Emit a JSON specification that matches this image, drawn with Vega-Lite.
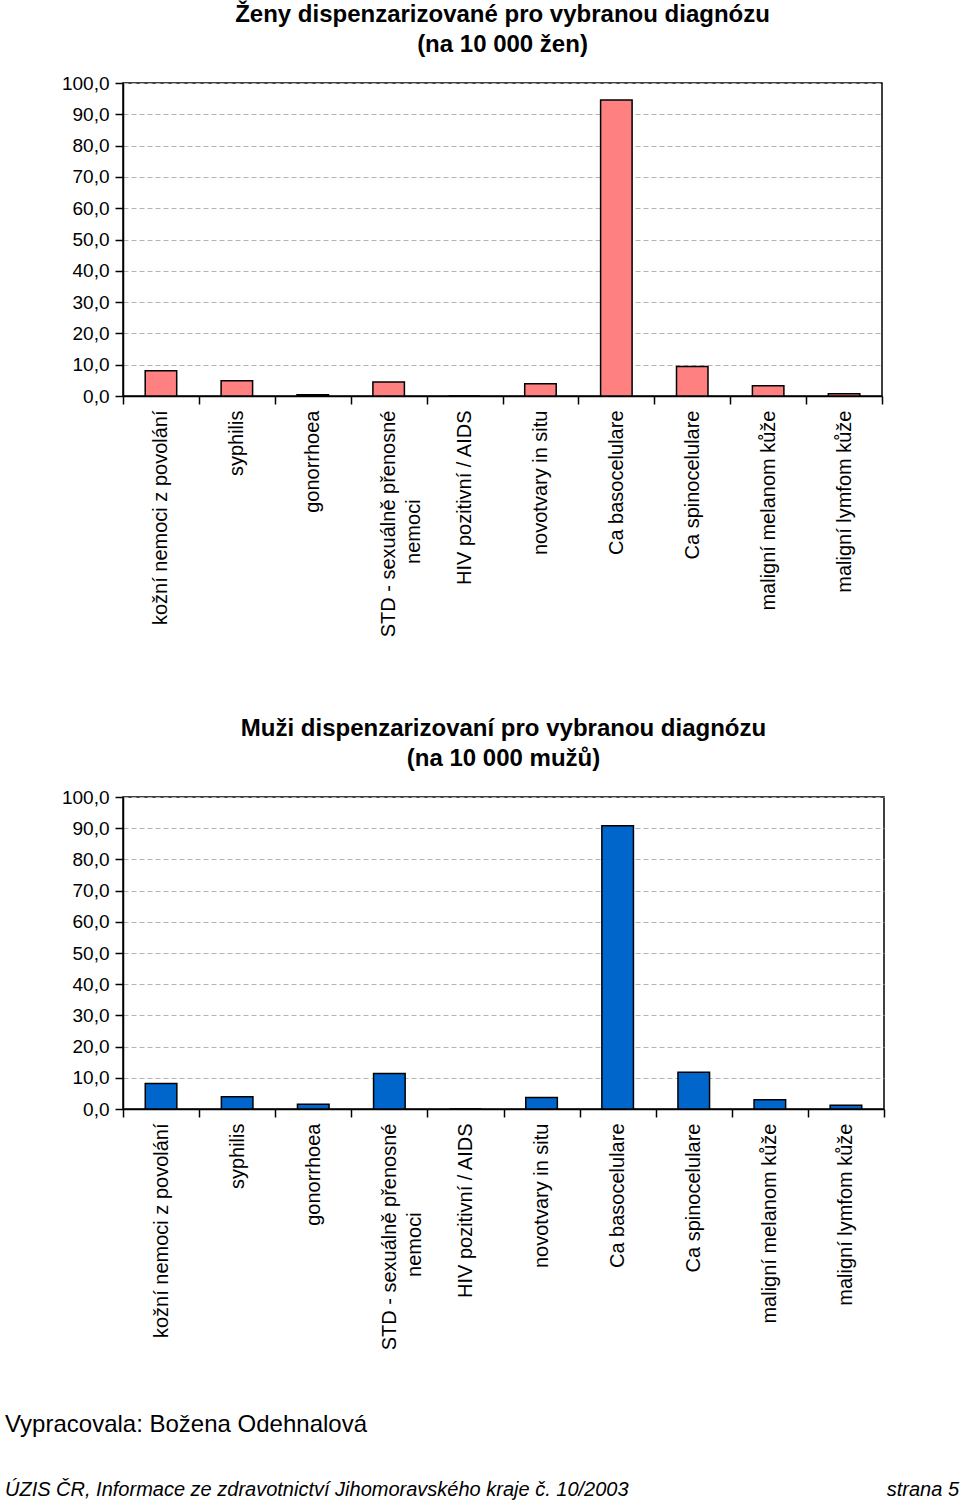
{
  "$schema": "https://vega.github.io/schema/vega-lite/v6.json",
  "padding": {"left": 0, "top": 2, "right": 0, "bottom": 0},
  "background": "white",
  "spacing": 49,
  "config": {
    "font": "Liberation Sans",
    "view": {"stroke": "black", "strokeWidth": 1.5},
    "axis": {
      "domainColor": "black", "domainWidth": 1.5,
      "tickColor": "black", "tickWidth": 1.5, "tickSize": 8,
      "labelColor": "black", "labelFontSize": 19, "labelFont": "Liberation Sans"
    },
    "title": {"fontSize": 24, "fontWeight": "bold", "color": "black", "lineHeight": 30, "font": "Liberation Sans"}
  },
  "vconcat": [
    {
      "title": {"text": ["Ženy dispenzarizované pro vybranou diagnózu", "(na 10 000 žen)"], "offset": 17, "anchor": "middle"},
      "width": 759,
      "height": 313,
      "data": {"values": [
        {"diagnoza": "kožní nemoci z povolání", "hodnota": 8.1},
        {"diagnoza": "syphilis", "hodnota": 4.9},
        {"diagnoza": "gonorrhoea", "hodnota": 0.4},
        {"diagnoza": "STD - sexuálně přenosné|nemoci", "hodnota": 4.5},
        {"diagnoza": "HIV pozitivní / AIDS", "hodnota": 0},
        {"diagnoza": "novotvary in situ", "hodnota": 3.9},
        {"diagnoza": "Ca basocelulare", "hodnota": 94.6},
        {"diagnoza": "Ca spinocelulare", "hodnota": 9.4},
        {"diagnoza": "maligní melanom kůže", "hodnota": 3.3},
        {"diagnoza": "maligní lymfom kůže", "hodnota": 0.7}
      ]},
      "mark": {"type": "bar", "fill": "#FF8080", "stroke": "black", "strokeWidth": 1.5, "width": {"band": 0.415}},
      "encoding": {
        "x": {
          "field": "diagnoza", "type": "nominal", "sort": null,
          "scale": {"paddingInner": 0, "paddingOuter": 0},
          "axis": {"title": null, "labelAngle": -90, "tickBand": "extent", "labelLimit": 400, "labelFontSize": 20,
            "labelLineHeight": 25, "labelPadding": 6, "minExtent": 270,
            "labelExpr": "indexof(datum.label, '|') >= 0 ? [split(datum.label, '|')[0], split(datum.label, '|')[1] + '\u00a0\u00a0\u00a0\u00a0\u00a0\u00a0\u00a0\u00a0\u00a0\u00a0\u00a0\u00a0\u00a0\u00a0\u00a0\u00a0\u200b'] : datum.label"}
        },
        "y": {
          "field": "hodnota", "type": "quantitative",
          "scale": {"domain": [0, 100], "nice": false},
          "axis": {"title": null, "values": [0, 10, 20, 30, 40, 50, 60, 70, 80, 90, 100],
            "labelExpr": "replace(format(datum.value, '.1f'), '.', ',')",
            "labelPadding": 6, "minExtent": 122,
            "grid": true, "gridColor": "#b4b4b4", "gridDash": [5, 3], "gridWidth": 1}
        }
      }
    },
    {
      "title": {"text": ["Muži dispenzarizovaní pro vybranou diagnózu", "(na 10 000 mužů)"], "offset": 17, "anchor": "middle"},
      "width": 761,
      "height": 312,
      "data": {"values": [
        {"diagnoza": "kožní nemoci z povolání", "hodnota": 8.2},
        {"diagnoza": "syphilis", "hodnota": 3.9},
        {"diagnoza": "gonorrhoea", "hodnota": 1.5},
        {"diagnoza": "STD - sexuálně přenosné|nemoci", "hodnota": 11.4},
        {"diagnoza": "HIV pozitivní / AIDS", "hodnota": 0},
        {"diagnoza": "novotvary in situ", "hodnota": 3.7},
        {"diagnoza": "Ca basocelulare", "hodnota": 90.8},
        {"diagnoza": "Ca spinocelulare", "hodnota": 11.8},
        {"diagnoza": "maligní melanom kůže", "hodnota": 3.0},
        {"diagnoza": "maligní lymfom kůže", "hodnota": 1.2}
      ]},
      "mark": {"type": "bar", "fill": "#0066CC", "stroke": "black", "strokeWidth": 1.5, "width": {"band": 0.415}},
      "encoding": {
        "x": {
          "field": "diagnoza", "type": "nominal", "sort": null,
          "scale": {"paddingInner": 0, "paddingOuter": 0},
          "axis": {"title": null, "labelAngle": -90, "tickBand": "extent", "labelLimit": 400, "labelFontSize": 20,
            "labelLineHeight": 25, "labelPadding": 6,
            "labelExpr": "indexof(datum.label, '|') >= 0 ? [split(datum.label, '|')[0], split(datum.label, '|')[1] + '\u00a0\u00a0\u00a0\u00a0\u00a0\u00a0\u00a0\u00a0\u00a0\u00a0\u00a0\u00a0\u00a0\u00a0\u00a0\u00a0\u200b'] : datum.label"}
        },
        "y": {
          "field": "hodnota", "type": "quantitative",
          "scale": {"domain": [0, 100], "nice": false},
          "axis": {"title": null, "values": [0, 10, 20, 30, 40, 50, 60, 70, 80, 90, 100],
            "labelExpr": "replace(format(datum.value, '.1f'), '.', ',')",
            "labelPadding": 6, "minExtent": 120,
            "grid": true, "gridColor": "#b4b4b4", "gridDash": [5, 3], "gridWidth": 1}
        }
      }
    },
    {
      "width": 838,
      "height": 93,
      "view": {"stroke": null},
      "data": {"values": [
        {"radek": "a", "strana": "left", "text": "Vypracovala: Božena Odehnalová", "styl": "autor"},
        {"radek": "b", "strana": "left", "text": "ÚZIS ČR, Informace ze zdravotnictví Jihomoravského kraje č. 10/2003", "styl": "zdroj"},
        {"radek": "b", "strana": "right", "text": "strana 5", "styl": "zdroj"}
      ]},
      "encoding": {
        "x": {"field": "strana", "type": "nominal", "scale": {"type": "point", "domain": ["left", "right"], "range": [-118, 836], "padding": 0}, "axis": null},
        "y": {"field": "radek", "type": "nominal", "scale": {"type": "point", "domain": ["a", "b"], "range": [25, 90], "padding": 0}, "axis": null},
        "text": {"field": "text"}
      },
      "layer": [
        {
          "transform": [{"filter": "datum.styl == 'autor'"}],
          "mark": {"type": "text", "align": "left", "baseline": "middle", "fontSize": 24, "color": "black", "font": "Liberation Sans"}
        },
        {
          "transform": [{"filter": "datum.styl == 'zdroj' && datum.strana == 'left'"}],
          "mark": {"type": "text", "align": "left", "baseline": "middle", "fontSize": 20, "fontStyle": "italic", "color": "black", "font": "Liberation Sans"}
        },
        {
          "transform": [{"filter": "datum.styl == 'zdroj' && datum.strana == 'right'"}],
          "mark": {"type": "text", "align": "right", "baseline": "middle", "fontSize": 20, "fontStyle": "italic", "color": "black", "font": "Liberation Sans"}
        }
      ]
    }
  ]
}
